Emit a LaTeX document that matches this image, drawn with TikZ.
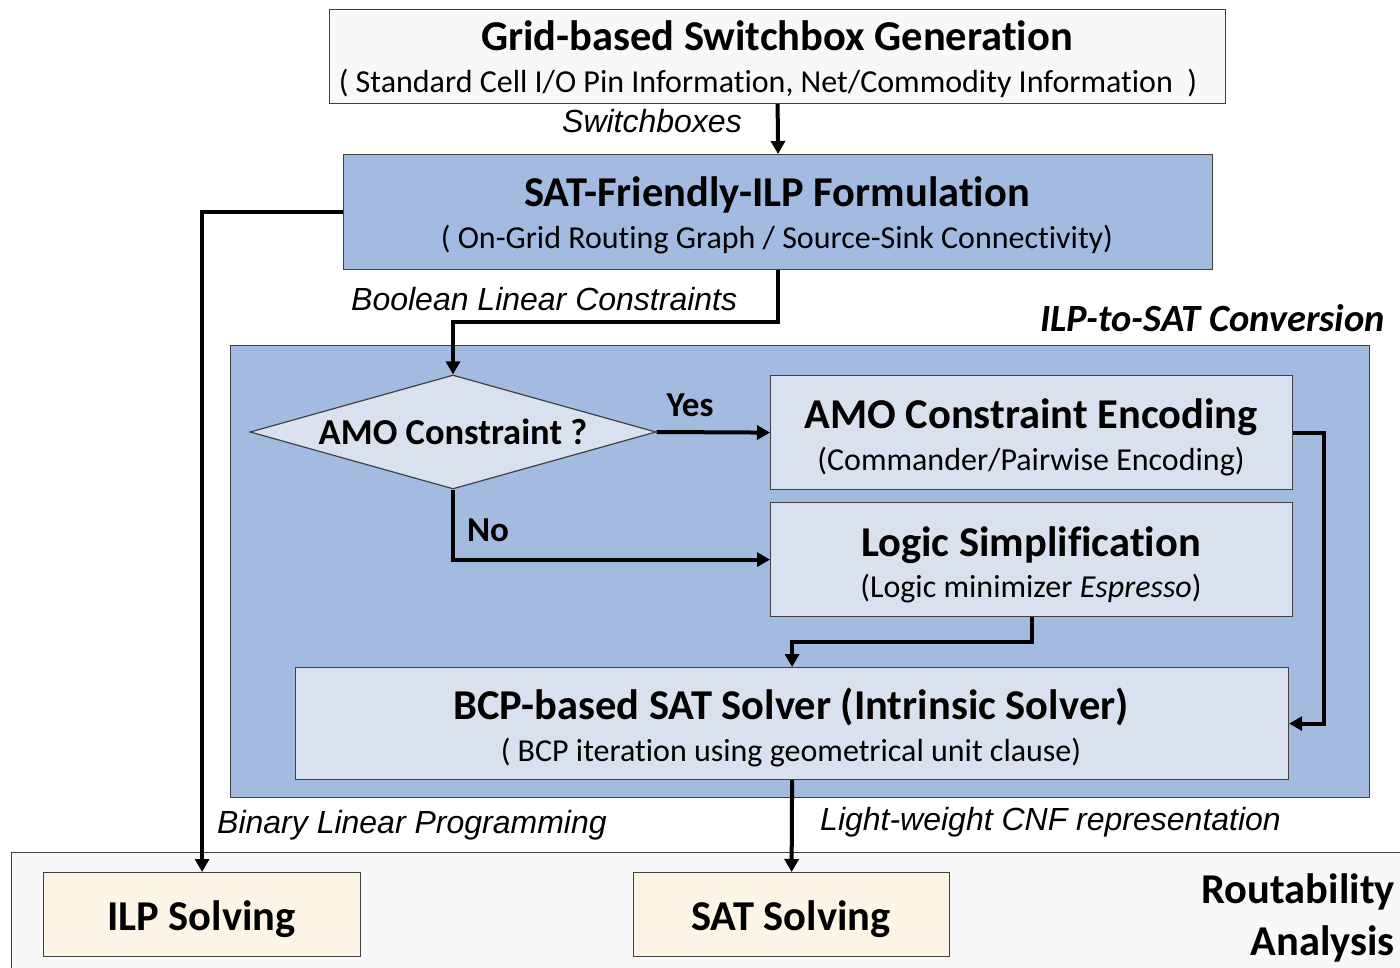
\documentclass[tikz,border=0pt]{standalone}
\usepackage{fontspec}
\setmainfont[RawFeature={-liga;-clig;-calt;-dlig}]{Carlito}
\newfontfamily\labelfont{Liberation Sans}
\usetikzlibrary{shapes.geometric,arrows.meta}

\definecolor{boxblue}{HTML}{A3BBE1}
\definecolor{boxpale}{HTML}{DAE1EE}
\definecolor{boxgray}{HTML}{F8F8F8}
\definecolor{boxcream}{HTML}{FCF4E5}
\definecolor{edgegray}{HTML}{404040}

\tikzset{
  x=1pt, y=-1pt,
  box/.style={draw=edgegray, line width=1.2pt, inner sep=0pt, anchor=north west},
  title/.style={inner sep=0pt, anchor=base, font=\fontsize{42.5}{46}\selectfont\bfseries},
  sub/.style={inner sep=0pt, anchor=base, font=\fontsize{32}{36}\selectfont},
  flowlabel/.style={inner sep=0pt, font=\fontsize{32}{36}\selectfont\labelfont\itshape},
  answer/.style={inner sep=0pt, anchor=base, font=\fontsize{35}{40}\selectfont\bfseries},
  flow/.style={line width=4pt, -{Triangle[length=13pt,width=14pt]}},
}

\begin{document}
\begin{tikzpicture}
\useasboundingbox (0,0) rectangle (1400,968);
\clip (0,0) rectangle (1400,968);

% containers
\node[box, fill=boxgray, minimum width=1420pt, minimum height=140pt] (analysis) at (11,852) {};
\node[box, fill=boxblue, minimum width=1139pt, minimum height=452pt] (conv) at (230,345) {};

% main flow boxes
\node[box, fill=boxgray, minimum width=896pt, minimum height=94pt] (gen) at (329,9) {};
\node[title] (genT) at (777,51) {Grid-based Switchbox Generation};
\node[sub] (genS) at (768,93) {( Standard Cell I/O Pin Information, Net/Commodity Information\ \ )};

\node[box, fill=boxblue, minimum width=869pt, minimum height=115pt] (sat) at (343,154) {};
\node[title] (satT) at (777,207) {SAT-Friendly-ILP Formulation};
\node[sub] (satS) at (777,249) {( On-Grid Routing Graph / Source-Sink Connectivity)};

\node[diamond, draw=edgegray, line width=1.2pt, fill=boxpale, aspect=3.56,
      minimum width=406pt, minimum height=114pt, inner sep=0pt] (amoq) at (453,432) {};
\node[answer, font=\fontsize{36.5}{40}\selectfont\bfseries] (amoqT) at (453,444) {AMO Constraint ?};

\node[box, fill=boxpale, minimum width=522pt, minimum height=114pt] (amo) at (770,375) {};
\node[title] (amoT) at (1031,428) {AMO Constraint Encoding};
\node[sub] (amoS) at (1031,470) {(Commander/Pairwise Encoding)};

\node[box, fill=boxpale, minimum width=522pt, minimum height=114pt] (logic) at (770,502) {};
\node[title] (logicT) at (1031,556) {Logic Simplification};
\node[sub] (logicS) at (1031,597) {(Logic minimizer \textit{Espresso})};

\node[box, fill=boxpale, minimum width=993pt, minimum height=112pt] (bcp) at (295,667) {};
\node[title] (bcpT) at (791,719) {BCP-based SAT Solver (Intrinsic Solver)};
\node[sub] (bcpS) at (791,761) {( BCP iteration using geometrical unit clause)};

\node[box, fill=boxcream, minimum width=317pt, minimum height=84pt] (ilp) at (43,872) {};
\node[title] (ilpT) at (201.5,930) {ILP Solving};

\node[box, fill=boxcream, minimum width=316pt, minimum height=84pt] (satsolve) at (633,872) {};
\node[title] (satsolveT) at (791,930) {SAT Solving};

% section titles
\node[inner sep=0pt, anchor=base east, font=\fontsize{38.5}{44}\selectfont\bfseries\itshape] (convT) at (1385,331) {ILP-to-SAT Conversion};
\node[title, anchor=base east] (anaT1) at (1395,903) {Routability};
\node[title, anchor=base east] (anaT2) at (1395,955) {Analysis};

% connectors
\draw[flow] (gen.south) -- (sat.north);
\draw[flow] (sat.west) -| (ilp.north);
\draw[flow] (sat.south) -- ++(0,52) -| (amoq.north);
\draw[flow] (amoq.east) -- (amo.west);
\draw[flow] (amoq.south) |- (logic.west);
\draw[flow] (logic.south) -- ++(0,25) -| (bcp.north);
\draw[flow] (amo.east) -- ++(31,0) |- (bcp.east);
\draw[flow] (bcp.south) -- (satsolve.north);

% connector labels
\node[flowlabel, anchor=base east] (lblSw) at (742,133) {Switchboxes};
\node[flowlabel, anchor=base west] (lblBool) at (351,310) {Boolean Linear Constraints};
\node[answer] (lblYes) at (690,416) {Yes};
\node[answer] (lblNo) at (488,541) {No};
\node[flowlabel, anchor=base west] (lblBin) at (217,833) {Binary Linear Programming};
\node[flowlabel, anchor=base west] (lblCnf) at (820,830) {Light-weight CNF representation};
\end{tikzpicture}
\end{document}
